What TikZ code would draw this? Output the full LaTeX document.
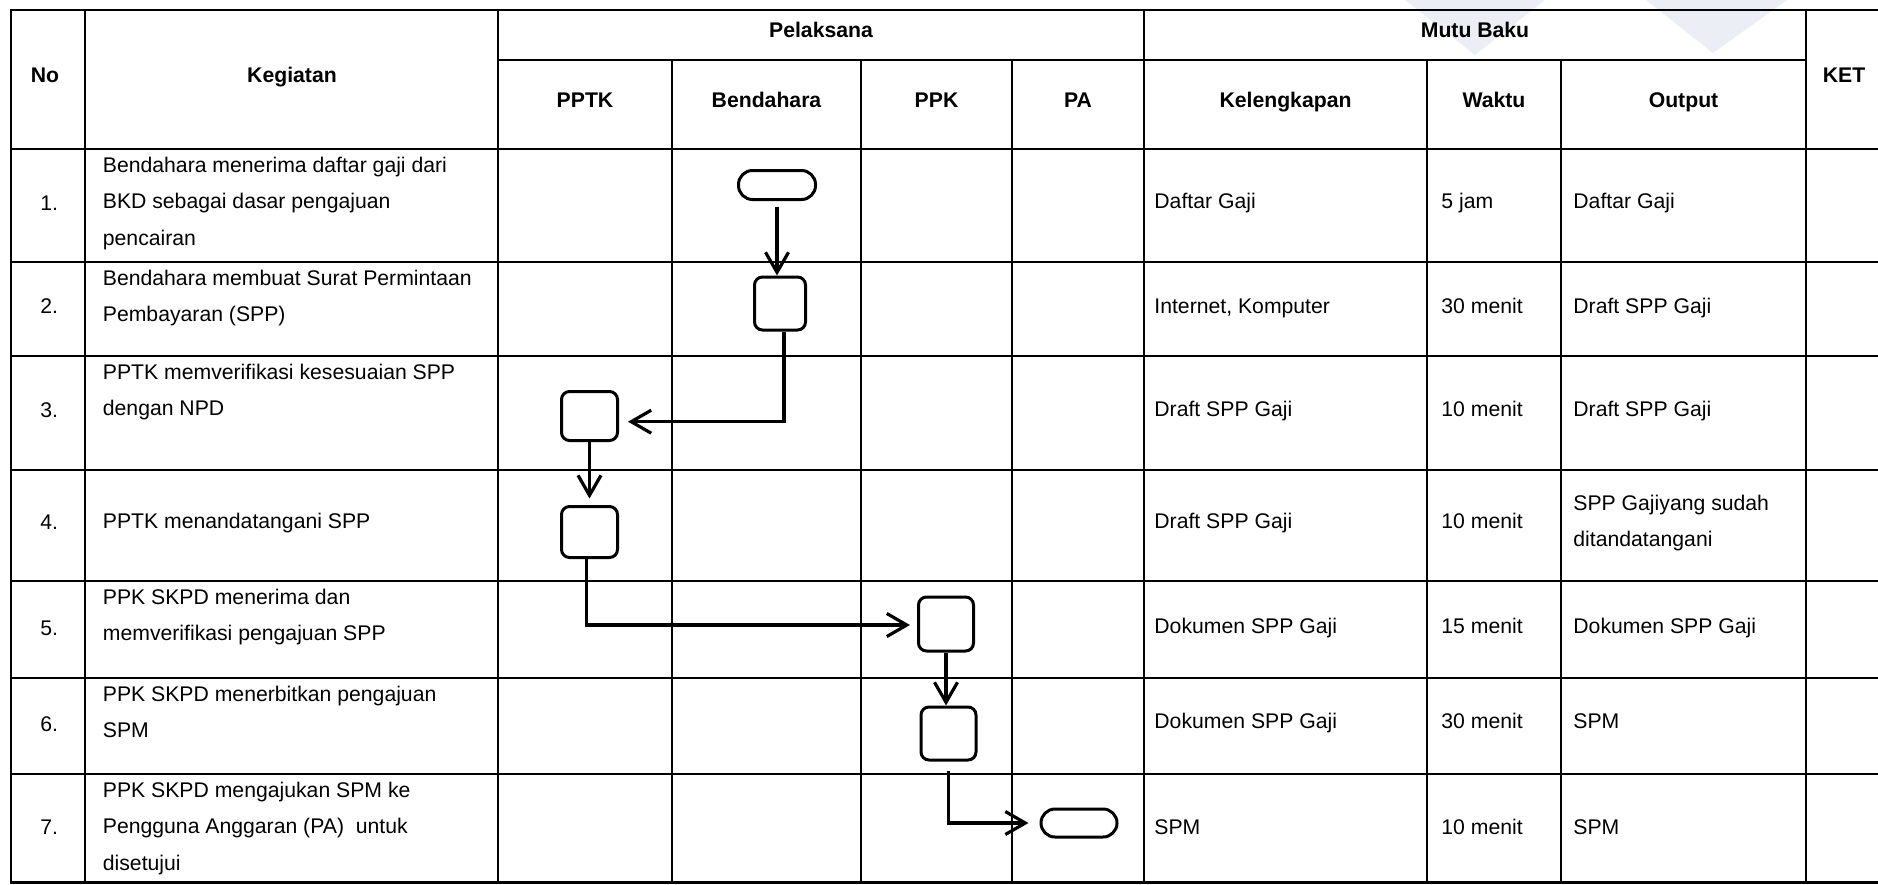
\documentclass[tikz,border=0pt]{standalone}
\usepackage{fontspec}
\setmainfont{Liberation Sans}
\usetikzlibrary{arrows.meta,calc}
\definecolor{wmark}{HTML}{EBEEF5}
\begin{document}
\begin{tikzpicture}[x=0.5pt,y=-0.5pt,
  grid/.style={line width=1.15pt, draw=black, line cap=rect},
  txt/.style={font=\fontsize{10.6}{18.25}\selectfont, inner sep=0pt, text=black},
  cell/.style={txt, anchor=base west},
  para/.style={txt, anchor=north west, align=left},
  hdr/.style={font=\bfseries\fontsize{10.6}{18.25}\selectfont, inner sep=0pt, anchor=base},
  act/.style={draw=black, fill=white, line width=1.5pt, rounded corners=4pt, inner sep=0pt},
  term/.style={draw=black, fill=white, line width=1.5pt, rounded corners=7pt, inner sep=0pt},
  conn/.style={line width=1.6pt, -{Straight Barb[length=10pt,width=11.5pt]}}
]
\useasboundingbox (0,0) rectangle (1878,884);
\fill[white] (0,0) rectangle (1878,884);
% faint watermark
\fill[wmark] (1405,0) -- (1545,0) -- (1475,55) -- cycle;
\fill[wmark] (1646,0) -- (1787,0) -- (1713,53) -- cycle;

% table grid
\foreach \y in {10,149,262,356,470,581,678,774,882.5} \draw[grid] (11,\y) -- (1878,\y);
\draw[grid] (498,60) -- (1806,60);
\foreach \x in {11,85,498,1144,1806} \draw[grid] (\x,10) -- (\x,882.5);
\foreach \x in {672,861,1012,1427,1561} \draw[grid] (\x,60) -- (\x,882.5);

% headers
\node[hdr] (hNo) at (45,82) {No};
\node[hdr] (hKeg) at (292,82) {Kegiatan};
\node[hdr] (hPel) at (821,37.5) {Pelaksana};
\node[hdr] (hMutu) at (1475,37.5) {Mutu Baku};
\node[hdr] (hKet) at (1844,82) {KET};
\node[hdr] (hPPTK) at (585,107) {PPTK};
\node[hdr] (hBend) at (766.5,107) {Bendahara};
\node[hdr] (hPPK) at (936.5,107) {PPK};
\node[hdr] (hPA) at (1078,107) {PA};
\node[hdr] (hKel) at (1285.5,107) {Kelengkapan};
\node[hdr] (hWak) at (1494,107) {Waktu};
\node[hdr] (hOut) at (1683.5,107) {Output};

% numbers
\node[cell] (n1) at (40,210.2) {1.};
\node[cell] (n2) at (40,313.7) {2.};
\node[cell] (n3) at (40,417.7) {3.};
\node[cell] (n4) at (40,529) {4.};
\node[cell] (n5) at (40,635) {5.};
\node[cell] (n6) at (40,731) {6.};
\node[cell] (n7) at (40,834) {7.};

% kegiatan
\node[para] (k1) at (102.5,146.45) {\strut Bendahara menerima daftar gaji dari\\BKD sebagai dasar pengajuan\\pencairan};
\node[para] (k2) at (102.5,259.45) {\strut Bendahara membuat Surat Permintaan\\Pembayaran (SPP)};
\node[para] (k3) at (102.5,353.45) {\strut PPTK memverifikasi kesesuaian SPP\\dengan NPD};
\node[cell] (k4) at (102.5,528) {PPTK menandatangani SPP};
\node[para] (k5) at (102.5,578.45) {\strut PPK SKPD menerima dan\\memverifikasi pengajuan SPP};
\node[para] (k6) at (102.5,675.45) {\strut PPK SKPD menerbitkan pengajuan\\SPM};
\node[para] (k7) at (102.5,771.45) {\strut PPK SKPD mengajukan SPM ke\\Pengguna Anggaran (PA)~ untuk\\disetujui};

% kelengkapan
\node[cell] (l1) at (1154,208) {Daftar Gaji};
\node[cell] (l2) at (1154,313) {Internet, Komputer};
\node[cell] (l3) at (1154,416) {Draft SPP Gaji};
\node[cell] (l4) at (1154,528.5) {Draft SPP Gaji};
\node[cell] (l5) at (1154,633) {Dokumen SPP Gaji};
\node[cell] (l6) at (1154,728.5) {Dokumen SPP Gaji};
\node[cell] (l7) at (1154,834) {SPM};

% waktu
\node[cell] (w1) at (1441,208) {5 jam};
\node[cell] (w2) at (1441,313) {30 menit};
\node[cell] (w3) at (1441,416) {10 menit};
\node[cell] (w4) at (1441,528.5) {10 menit};
\node[cell] (w5) at (1441,633) {15 menit};
\node[cell] (w6) at (1441,728.5) {30 menit};
\node[cell] (w7) at (1441,834) {10 menit};

% output
\node[cell] (o1) at (1573,208) {Daftar Gaji};
\node[cell] (o2) at (1573,313) {Draft SPP Gaji};
\node[cell] (o3) at (1573,416) {Draft SPP Gaji};
\node[para] (o4) at (1573,484.2) {\strut SPP Gajiyang sudah\\ditandatangani};
\node[cell] (o5) at (1573,633) {Dokumen SPP Gaji};
\node[cell] (o6) at (1573,728.5) {SPM};
\node[cell] (o7) at (1573,834) {SPM};

% flow shapes
\node[term, minimum width=38.5pt, minimum height=14.5pt] (t1) at (777,185) {};
\node[act, minimum width=25.5pt, minimum height=26.5pt] (b2) at (780,303.5) {};
\node[act, minimum width=28pt, minimum height=24.5pt] (b3) at (589.5,416) {};
\node[act, minimum width=28pt, minimum height=25.5pt] (b4) at (589.5,532) {};
\node[act, minimum width=27.5pt, minimum height=27pt] (b5) at (946,624) {};
\node[act, minimum width=27.5pt, minimum height=26.5pt] (b6) at (948.5,733.5) {};
\node[term, minimum width=38pt, minimum height=14pt] (t7) at (1079,823) {};

% connectors
\draw[conn, shorten <=2.75pt] (t1.south) -- (t1.south |- b2.north);
\draw[conn, shorten >=4.5pt] ($(b2.south)+(4,0)$) |- ($(b3.east)+(0,5.7)$);
\draw[conn, shorten >=3.25pt] (b3.south) -- (b4.north);
\draw[conn, shorten >=3.5pt] ($(b4.south)+(-3,0)$) |- ($(b5.west)+(0,1)$);
\draw[conn] (b5.south) -- (b5.south |- b6.north);
\draw[conn, shorten <=4.5pt, shorten >=5.5pt] (b6.south) |- (t7.west);
\end{tikzpicture}
\end{document}
